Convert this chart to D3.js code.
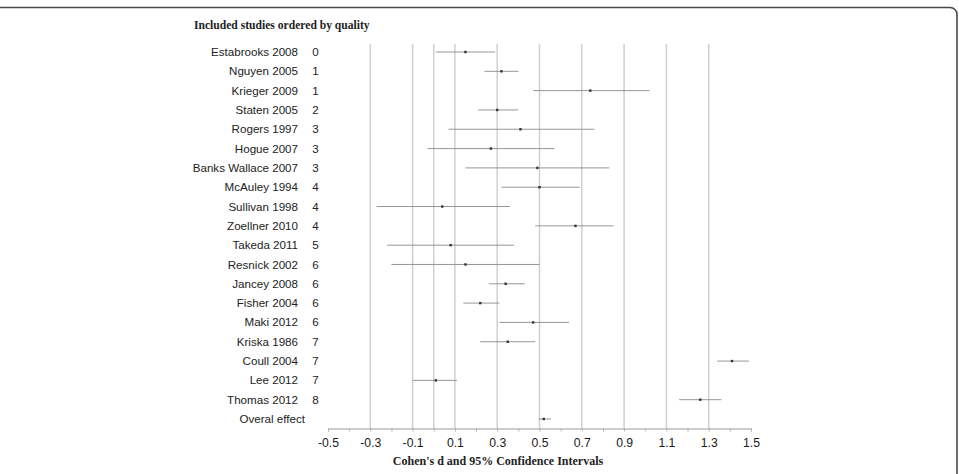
<!DOCTYPE html>
<html>
<head>
<meta charset="utf-8">
<script src="https://cdn.jsdelivr.net/npm/d3@7"></script>
<style>
  body { margin: 0; background: #fff; }
  svg { display: block; }
</style>
</head>
<body>
<div id="chart-area"></div>
<script>
// studies, in the order they appear (top to bottom)
let studies = ["Estabrooks 2008", "Nguyen 2005", "Krieger 2009", "Staten 2005", "Rogers 1997",
  "Hogue 2007", "Banks Wallace 2007", "McAuley 1994", "Sullivan 1998", "Zoellner 2010",
  "Takeda 2011", "Resnick 2002", "Jancey 2008", "Fisher 2004", "Maki 2012",
  "Kriska 1986", "Coull 2004", "Lee 2012", "Thomas 2012", "Overal effect"];
let quality = ["0", "1", "1", "2", "3", "3", "3", "4", "4", "4", "5", "6", "6", "6", "6", "7", "7", "7", "8", ""];
let effect = [0.15, 0.32, 0.74, 0.30, 0.41, 0.27, 0.49, 0.50, 0.04, 0.67,
  0.08, 0.15, 0.34, 0.22, 0.47, 0.35, 1.41, 0.01, 1.26, 0.52];
let ciLow = [0.01, 0.24, 0.47, 0.21, 0.07, -0.03, 0.15, 0.32, -0.27, 0.48,
  -0.22, -0.20, 0.26, 0.14, 0.31, 0.22, 1.34, -0.10, 1.16, 0.495];
let ciHigh = [0.29, 0.40, 1.02, 0.40, 0.76, 0.57, 0.83, 0.69, 0.36, 0.85,
  0.38, 0.50, 0.43, 0.31, 0.64, 0.48, 1.49, 0.11, 1.36, 0.555];
let tickLabels = [-0.5, -0.3, -0.1, 0.1, 0.3, 0.5, 0.7, 0.9, 1.1, 1.3, 1.5];
let gridValues = [-0.3, -0.1, 0, 0.1, 0.3, 0.5, 0.7, 0.9, 1.1, 1.3];

const width = 959;
const height = 474;

const svg = d3.select("#chart-area")
  .append("svg")
  .attr("width", width)
  .attr("height", height);

// frame of the figure (cropped on the left and bottom)
svg.append("rect")
  .attr("x", -20)
  .attr("y", 7.5)
  .attr("width", 977)
  .attr("height", 500)
  .attr("rx", 7)
  .style("fill", "none")
  .style("stroke", "#4a4a4a")
  .style("stroke-width", 1.6);

const x = d3.scaleLinear().domain([-0.5, 1.5]).range([328, 751]);
const y = d3.scalePoint().domain(d3.range(studies.length)).range([52, 419]);

const axisY = 428.5;

svg.append("text")
  .attr("x", 194)
  .attr("y", 29)
  .style("font-family", "'Liberation Serif', 'Times New Roman', serif")
  .style("font-weight", "bold")
  .style("font-size", "11.6px")
  .style("fill", "#222")
  .text("Included studies ordered by quality");

// grid lines
svg.selectAll(".grid")
  .data(gridValues)
  .enter()
  .append("line")
  .attr("class", "grid")
  .attr("x1", (d) => x(d))
  .attr("x2", (d) => x(d))
  .attr("y1", 44)
  .attr("y2", axisY)
  .style("stroke", "#cfcfcf")
  .style("stroke-width", 1.5);

// axis, labels every 0.2 with a plain hyphen as minus sign
const axis = d3.axisBottom(x)
  .tickValues(d3.range(-5, 16).map((d) => d / 10))
  .tickSize(3)
  .tickFormat((d) => tickLabels.some((t) => Math.abs(t - d) < 1e-9) ? d.toFixed(1) : "");

const gAxis = svg.append("g")
  .attr("transform", `translate(0, ${axisY})`)
  .call(axis);

gAxis.select(".domain").style("stroke", "#9a9a9a");
gAxis.selectAll(".tick line").style("stroke", "#b0b0b0");
gAxis.selectAll(".tick text")
  .attr("y", 10)
  .style("font-family", "'Liberation Sans', Arial, sans-serif")
  .style("font-size", "12.2px")
  .style("fill", "#1a1a1a");

svg.append("text")
  .attr("x", 498)
  .attr("y", 465)
  .style("text-anchor", "middle")
  .style("font-family", "'Liberation Serif', 'Times New Roman', serif")
  .style("font-weight", "bold")
  .style("font-size", "12px")
  .style("fill", "#222")
  .text("Cohen's d and 95% Confidence Intervals");

// study labels
const rows = svg.selectAll(".row")
  .data(studies)
  .enter()
  .append("g")
  .attr("class", "row")
  .attr("transform", (d, i) => `translate(0, ${y(i)})`);

rows.append("text")
  .attr("x", (d, i) => i === studies.length - 1 ? 305 : 298)
  .attr("dy", "0.35em")
  .style("text-anchor", "end")
  .style("font-family", "'Liberation Sans', Arial, sans-serif")
  .style("font-size", "11.6px")
  .style("fill", "#222")
  .text((d) => d);

rows.append("text")
  .attr("x", 315.5)
  .attr("dy", "0.35em")
  .style("text-anchor", "middle")
  .style("font-family", "'Liberation Sans', Arial, sans-serif")
  .style("font-size", "11.6px")
  .style("fill", "#222")
  .text((d, i) => quality[i]);

// confidence intervals
rows.append("line")
  .attr("x1", (d, i) => x(ciLow[i]))
  .attr("x2", (d, i) => x(ciHigh[i]))
  .style("stroke", "#8a8a8a")
  .style("stroke-width", 0.9);

// point estimates
rows.append("rect")
  .attr("x", (d, i) => x(effect[i]) - 1.2)
  .attr("y", -1.2)
  .attr("width", 2.4)
  .attr("height", 2.4)
  .style("fill", "#333");
</script>
</body>
</html>
